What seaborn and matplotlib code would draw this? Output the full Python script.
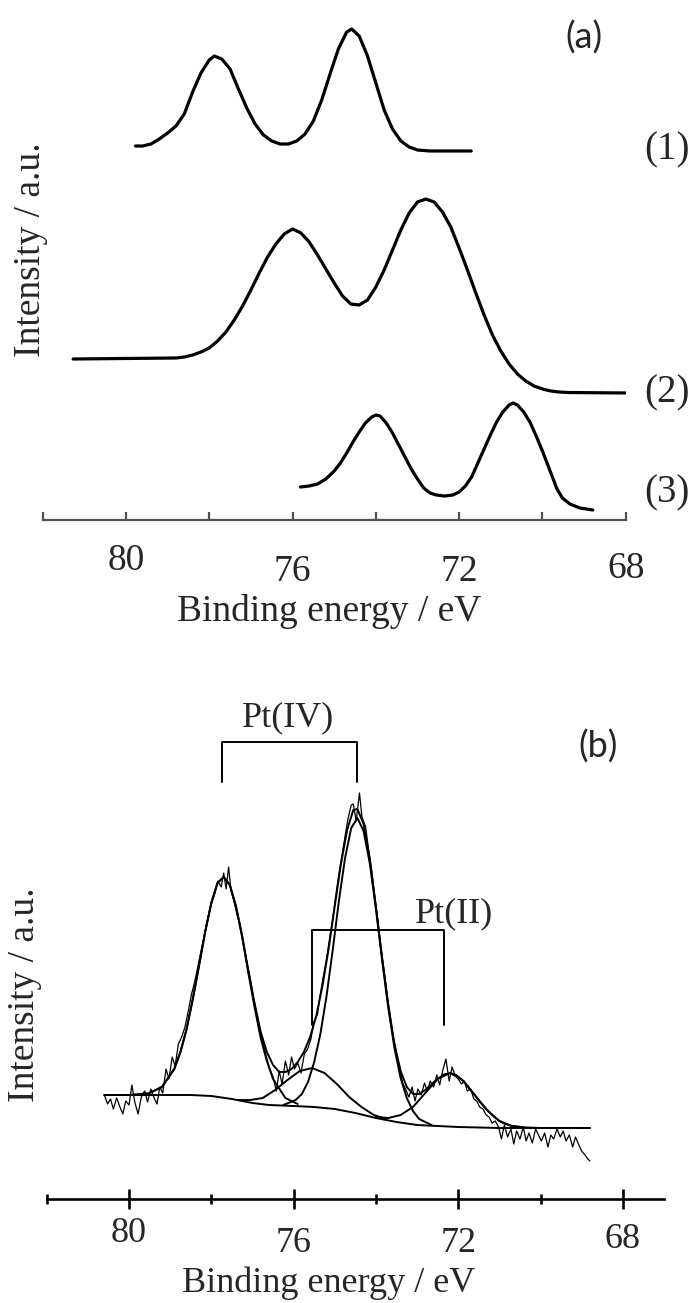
import matplotlib
matplotlib.use("Agg")
import matplotlib.pyplot as plt
import matplotlib.transforms as mtransforms
import seaborn as sns

sns.set_style("white")
plt.rcParams["font.family"] = ["Liberation Serif", "DejaVu Serif"]

# ---- panel (a): stacked Pt 4f spectra (binding energy eV, intensity a.u.) ----
a1_energy = [79.77, 79.60, 79.40, 79.20, 79.00, 78.80, 78.60, 78.40, 78.20, 78.00,
             77.88, 77.70, 77.50, 77.30, 77.10, 76.90, 76.70, 76.50, 76.30, 76.10,
             75.90, 75.70, 75.50, 75.30, 75.10, 74.90, 74.70, 74.58, 74.40, 74.20,
             74.00, 73.80, 73.60, 73.40, 73.20, 73.00, 72.70, 71.71]
a1_intensity = [3.74, 3.74, 3.76, 3.81, 3.87, 3.94, 4.06, 4.28, 4.47, 4.60,
                4.64, 4.61, 4.51, 4.31, 4.12, 3.96, 3.85, 3.79, 3.76, 3.76,
                3.79, 3.86, 3.99, 4.20, 4.46, 4.71, 4.88, 4.91, 4.84, 4.64,
                4.37, 4.10, 3.91, 3.79, 3.73, 3.70, 3.69, 3.69]

a2_energy = [81.27, 78.80, 78.60, 78.40, 78.20, 78.00, 77.80, 77.60, 77.40, 77.20,
             77.00, 76.80, 76.60, 76.40, 76.20, 76.00, 75.80, 75.60, 75.40, 75.20,
             75.00, 74.80, 74.60, 74.40, 74.20, 74.00, 73.80, 73.60, 73.40, 73.20,
             73.00, 72.80, 72.60, 72.40, 72.20, 72.00, 71.80, 71.60, 71.40, 71.20,
             71.00, 70.80, 70.60, 70.40, 70.20, 70.00, 69.80, 69.60, 69.40, 67.92]
a2_intensity = [1.61, 1.62, 1.63, 1.65, 1.68, 1.72, 1.79, 1.88, 2.00, 2.14,
                2.30, 2.47, 2.63, 2.76, 2.86, 2.91, 2.87, 2.78, 2.65, 2.51,
                2.37, 2.24, 2.16, 2.15, 2.20, 2.33, 2.50, 2.70, 2.90, 3.07,
                3.18, 3.21, 3.18, 3.08, 2.93, 2.72, 2.50, 2.27, 2.05, 1.85,
                1.69, 1.56, 1.46, 1.39, 1.34, 1.31, 1.29, 1.28, 1.275, 1.27]

a3_energy = [75.81, 75.60, 75.40, 75.20, 75.00, 74.85, 74.70, 74.55, 74.40, 74.25,
             74.10, 74.00, 73.90, 73.75, 73.60, 73.45, 73.30, 73.15, 73.00, 72.85,
             72.70, 72.55, 72.35, 72.15, 72.00, 71.85, 71.70, 71.55, 71.40, 71.25,
             71.10, 70.95, 70.80, 70.70, 70.60, 70.45, 70.30, 70.15, 70.00, 69.88,
             69.76, 69.65, 69.52, 69.34, 69.10, 68.79]
a3_intensity = [0.33, 0.34, 0.36, 0.41, 0.49, 0.57, 0.67, 0.78, 0.88, 0.97,
                1.03, 1.05, 1.04, 0.97, 0.87, 0.75, 0.63, 0.51, 0.41, 0.32,
                0.27, 0.25, 0.24, 0.25, 0.28, 0.34, 0.43, 0.57, 0.71, 0.85,
                0.98, 1.08, 1.15, 1.17, 1.15, 1.08, 0.98, 0.84, 0.69, 0.56,
                0.43, 0.31, 0.22, 0.16, 0.12, 0.10]

a_ticks = [82, 80, 78, 76, 74, 72, 70, 68]
a_ticklabels = [80, 76, 72, 68]
a_curve_names = ["(1)", "(2)", "(3)"]

# ---- panel (b): measured spectrum with fitted components ----
raw_energy = [80.60, 80.52, 80.45, 80.38, 80.30, 80.22, 80.15, 80.08, 80.00, 79.93,
              79.86, 79.78, 79.70, 79.62, 79.55, 79.47, 79.40, 79.32, 79.25, 79.18,
              79.10, 79.03, 78.95, 78.88, 78.80, 78.72, 78.64, 78.56, 78.48, 78.40,
              78.32, 78.24, 78.16, 78.08, 78.00, 77.92, 77.84, 77.76, 77.70, 77.64,
              77.58, 77.52, 77.45, 77.38, 77.30, 77.22, 77.14, 77.06, 76.98, 76.90,
              76.82, 76.74, 76.66, 76.58, 76.50, 76.42, 76.35, 76.28, 76.20, 76.12,
              76.05, 75.98, 75.90, 75.82, 75.74, 75.66, 75.58, 75.50, 75.42, 75.35,
              75.28, 75.20, 75.12, 75.05, 74.98, 74.90, 74.82, 74.75, 74.68, 74.60,
              74.55, 74.48, 74.40, 74.34, 74.25, 74.18, 74.10, 74.02, 73.95, 73.88,
              73.80, 73.72, 73.65, 73.58, 73.50, 73.42, 73.35, 73.28, 73.20, 73.12,
              73.05, 72.98, 72.90, 72.82, 72.75, 72.68, 72.60, 72.52, 72.45, 72.38,
              72.30, 72.22, 72.15, 72.08, 72.00, 71.92, 71.85, 71.78, 71.70, 71.62,
              71.55, 71.48, 71.40, 71.32, 71.25, 71.18, 71.10, 71.02, 70.95, 70.88,
              70.80, 70.72, 70.65, 70.58, 70.50, 70.42, 70.35, 70.28, 70.20, 70.12,
              70.05, 69.98, 69.90, 69.82, 69.75, 69.68, 69.60, 69.52, 69.45, 69.38,
              69.30, 69.22, 69.15, 69.08, 69.00, 68.92, 68.85, 68.80]
raw_intensity = [1.04, 0.95, 1.00, 0.90, 1.01, 0.92, 0.85, 0.98, 0.94, 1.14,
                 0.97, 0.85, 1.02, 1.08, 0.97, 1.10, 1.02, 0.95, 1.12, 1.06,
                 1.30, 1.20, 1.42, 1.33, 1.55, 1.62, 1.72, 1.88, 2.05, 2.18,
                 2.34, 2.50, 2.65, 2.82, 2.95, 3.05, 3.18, 3.12, 3.26, 3.10,
                 3.32, 3.08, 2.98, 2.85, 2.74, 2.55, 2.38, 2.22, 2.02, 1.86,
                 1.70, 1.55, 1.42, 1.30, 1.22, 1.08, 1.28, 1.15, 1.38, 1.24,
                 1.42, 1.30, 1.36, 1.26, 1.45, 1.50, 1.60, 1.78, 1.85, 2.05,
                 2.22, 2.40, 2.62, 2.80, 3.02, 3.25, 3.45, 3.62, 3.80, 3.94,
                 3.95, 3.78, 4.06, 3.82, 3.72, 3.50, 3.28, 3.00, 2.78, 2.52,
                 2.28, 2.02, 1.82, 1.62, 1.45, 1.30, 1.16, 1.10, 1.02, 1.12,
                 0.98, 1.10, 1.04, 1.16, 1.08, 1.18, 1.12, 1.24, 1.14, 1.28,
                 1.40, 1.18, 1.32, 1.24, 1.20, 1.15, 1.18, 1.08, 1.10, 1.00,
                 0.98, 0.92, 0.90, 0.84, 0.82, 0.76, 0.78, 0.72, 0.60, 0.74,
                 0.62, 0.70, 0.55, 0.68, 0.60, 0.72, 0.58, 0.66, 0.56, 0.70,
                 0.64, 0.58, 0.66, 0.52, 0.64, 0.60, 0.70, 0.62, 0.68, 0.58,
                 0.64, 0.52, 0.62, 0.55, 0.48, 0.44, 0.40, 0.38]

bg_energy = [80.6, 78.5, 78.0, 77.5, 77.0, 76.6, 76.0, 75.5, 75.0, 74.5,
             74.0, 73.5, 73.0, 72.5, 72.0, 71.0, 68.8]
bg_intensity = [1.04, 1.04, 1.03, 1.00, 0.96, 0.94, 0.93, 0.92, 0.90, 0.86,
                0.81, 0.77, 0.74, 0.73, 0.72, 0.71, 0.71]

env_energy = [80.6, 80.0, 79.5, 79.2, 78.9, 78.75, 78.6, 78.45, 78.3, 78.15,
              78.0, 77.85, 77.7, 77.55, 77.4, 77.25, 77.1, 76.95, 76.8, 76.65,
              76.5, 76.35, 76.2, 76.05, 75.9, 75.75, 75.6, 75.45, 75.3, 75.15,
              75.0, 74.85, 74.7, 74.55, 74.45, 74.3, 74.15, 74.0, 73.85, 73.7,
              73.55, 73.4, 73.25, 73.1, 72.95, 72.8, 72.65, 72.5, 72.35, 72.2,
              72.05, 71.9, 71.75, 71.6, 71.45, 71.3, 71.15, 71.0, 70.85, 70.7,
              70.4, 70.0, 68.8]
env_intensity = [1.04, 1.04, 1.06, 1.12, 1.30, 1.47, 1.70, 2.00, 2.33, 2.67,
                 2.96, 3.16, 3.22, 3.14, 2.93, 2.63, 2.28, 1.96, 1.67, 1.47,
                 1.34, 1.27, 1.27, 1.30, 1.37, 1.47, 1.62, 1.83, 2.13, 2.50,
                 2.93, 3.35, 3.69, 3.89, 3.90, 3.75, 3.40, 2.92, 2.41, 1.94,
                 1.55, 1.28, 1.12, 1.05, 1.05, 1.09, 1.15, 1.20, 1.245, 1.26,
                 1.24, 1.19, 1.12, 1.04, 0.96, 0.89, 0.83, 0.78, 0.75, 0.73,
                 0.716, 0.71, 0.71]

pt4_52_energy = [79.5, 79.2, 78.9, 78.75, 78.6, 78.45, 78.3, 78.15, 78.0, 77.85,
                 77.7, 77.55, 77.4, 77.25, 77.1, 76.95, 76.8, 76.65, 76.5, 76.2, 75.9]
pt4_52_intensity = [1.06, 1.12, 1.30, 1.47, 1.70, 2.00, 2.33, 2.67, 2.96, 3.16,
                    3.22, 3.14, 2.92, 2.62, 2.26, 1.92, 1.61, 1.38, 1.20, 1.01, 0.95]

pt4_72_energy = [76.25, 75.95, 75.8, 75.65, 75.5, 75.35, 75.2, 75.05, 74.9, 74.75,
                 74.6, 74.45, 74.3, 74.15, 74.0, 73.85, 73.7, 73.55, 73.4, 73.25,
                 73.1, 72.95, 72.65]
pt4_72_intensity = [0.94, 0.99, 1.05, 1.17, 1.37, 1.65, 2.03, 2.49, 2.98, 3.41,
                    3.71, 3.81, 3.68, 3.36, 2.90, 2.39, 1.91, 1.51, 1.21, 1.01,
                    0.88, 0.80, 0.74]

pt2_52_energy = [77.35, 77.05, 76.75, 76.45, 76.15, 75.85, 75.55, 75.25, 74.95, 74.65,
                 74.35, 74.05, 73.75]
pt2_52_intensity = [0.99, 0.99, 1.01, 1.09, 1.19, 1.28, 1.31, 1.26, 1.15, 1.02,
                    0.92, 0.84, 0.80]

pt2_72_energy = [74.0, 73.7, 73.4, 73.1, 72.8, 72.5, 72.2, 71.9, 71.6, 71.3,
                 71.0, 70.7, 70.4]
pt2_72_intensity = [0.82, 0.81, 0.84, 0.92, 1.06, 1.20, 1.26, 1.19, 1.04, 0.89,
                    0.78, 0.73, 0.716]

b_major_ticks = [80, 76, 72, 68]
b_minor_ticks = [82, 78, 74, 70]

# doublet assignments (peak positions)
pt4_doublet = [77.75, 74.45]
pt2_doublet = [75.55, 72.35]

W, H = 697, 1303


def fx(px):
    return px / W


def fy(px):
    return 1 - px / H


fig = plt.figure(figsize=(W / 100, H / 100), dpi=100)
ax_a = fig.add_axes([fx(42.7), fy(520), fx(625.7 - 42.7), 520 / H])
ax_b = fig.add_axes([fx(46.7), fy(1199), fx(664 - 46.7), (1199 - 690) / H])

for ax in (ax_a, ax_b):
    for side in ("left", "right", "top"):
        ax.spines[side].set_visible(False)
    ax.set_yticks([])

# panel (a)
for en, it in ((a1_energy, a1_intensity), (a2_energy, a2_intensity), (a3_energy, a3_intensity)):
    sns.lineplot(x=en, y=it, ax=ax_a, color="black", lw=2.3, sort=False, estimator=None)
ax_a.set_xlim(82, 68)
ax_a.set_ylim(0, 5.2)
ax_a.spines["bottom"].set_color("#505050")
ax_a.spines["bottom"].set_linewidth(1.6)
ax_a.set_xticks(a_ticks)
ax_a.tick_params(axis="x", bottom=True, direction="in", length=5.5, width=1.6,
                 color="#505050", labelbottom=False)

# panel (b)
sns.lineplot(x=raw_energy, y=raw_intensity, ax=ax_b, color="black", lw=0.9, sort=False, estimator=None)
for en, it in ((bg_energy, bg_intensity), (env_energy, env_intensity),
               (pt4_52_energy, pt4_52_intensity), (pt4_72_energy, pt4_72_intensity),
               (pt2_52_energy, pt2_52_intensity), (pt2_72_energy, pt2_72_intensity)):
    sns.lineplot(x=en, y=it, ax=ax_b, color="black", lw=1.4, sort=False, estimator=None)
ax_b.set_xlim(82, 67)
ax_b.set_ylim(0, 5.09)
ax_b.spines["bottom"].set_color("black")
ax_b.spines["bottom"].set_linewidth(1.9)
ax_b.set_xticks(b_major_ticks)
ax_b.set_xticks(b_minor_ticks, minor=True)
ax_b.tick_params(axis="x", which="major", bottom=True, direction="inout", length=14,
                 width=1.9, color="black", labelbottom=False)
ax_b.tick_params(axis="x", which="minor", bottom=True, direction="inout", length=7,
                 width=1.9, color="black")

for ax in (ax_a, ax_b):
    ax.set_xlabel("")
    ax.set_ylabel("")

# brackets marking the spin-orbit doublets
ax_b.plot([pt4_doublet[0], pt4_doublet[0], pt4_doublet[1], pt4_doublet[1]],
          [4.17, 4.57, 4.57, 4.17], color="black", lw=1.4)
ax_b.plot([pt2_doublet[0], pt2_doublet[0], pt2_doublet[1], pt2_doublet[1]],
          [1.74, 2.69, 2.69, 1.74], color="black", lw=1.4)
ax_b.text(76.14, 4.81, "Pt(IV)", ha="center", va="center", fontsize=26)
ax_b.text(72.09, 2.85, "Pt(II)", ha="center", va="center", fontsize=26)

# tick labels (slightly staggered, as in the original)
for ax, labels, ypos, fs in ((ax_a, a_ticklabels, [561, 572, 572, 569], 27),
                             (ax_b, b_major_ticks, [1234, 1243, 1243, 1240], 26)):
    trans = mtransforms.blended_transform_factory(ax.transData, fig.transFigure)
    for val, yp in zip(labels, ypos):
        ax.text(val, fy(yp), str(val), transform=trans, ha="center", va="center", fontsize=fs)

# axis titles
fig.text(fx(329), fy(611), "Binding energy / eV", ha="center", va="center", fontsize=27)
fig.text(fx(329), fy(1283), "Binding energy / eV", ha="center", va="center", fontsize=26)
fig.text(fx(31), fy(250), "Intensity / a.u.", ha="center", va="center", rotation=90, fontsize=27)
fig.text(fx(25), fy(995), "Intensity / a.u.", ha="center", va="center", rotation=90, fontsize=27)

# curve labels and panel letters
for name, yp in zip(a_curve_names, [150, 393, 493]):
    fig.text(fx(667), fy(yp), name, ha="center", va="center", fontsize=28)
fig.text(fx(584), fy(38), "(a)", ha="center", va="center", fontsize=26, family=["Lato", "DejaVu Sans"])
fig.text(fx(598), fy(747), "(b)", ha="center", va="center", fontsize=26, family=["Lato", "DejaVu Sans"])

fig.savefig("out.png", dpi=100)
